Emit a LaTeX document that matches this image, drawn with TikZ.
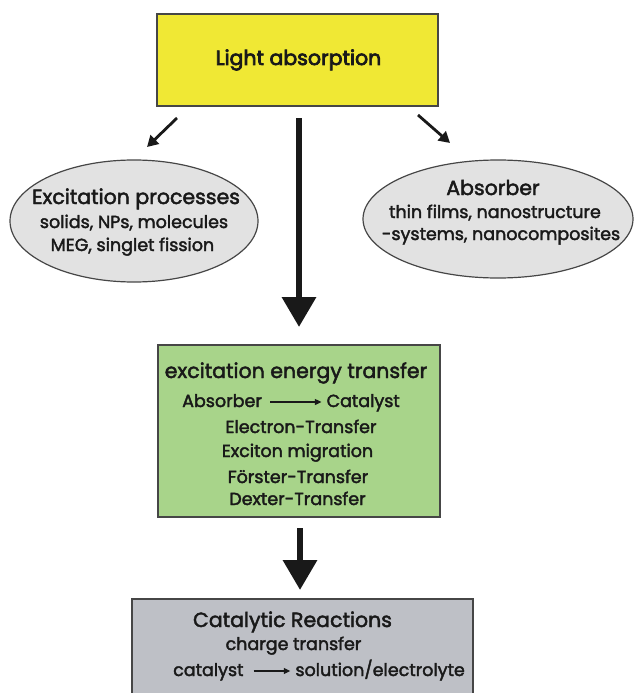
\documentclass[tikz,border=0pt]{standalone}
\usepackage{fontspec}
\setmainfont{Poppins}[FakeBold=2.2]
\newfontfamily\heavyfont{Poppins}[FakeBold=3.5]
\usetikzlibrary{arrows.meta,shapes.geometric}
\definecolor{yel}{RGB}{240,232,52}
\definecolor{grn}{RGB}{168,212,138}
\definecolor{gry}{RGB}{190,192,198}
\definecolor{ellc}{RGB}{226,226,226}
\definecolor{edgec}{RGB}{70,70,70}
\definecolor{ink}{RGB}{25,25,25}
\begin{document}
\begin{tikzpicture}[x=1pt,y=-1pt,
  box/.style={draw=edgec, line width=1.5pt, inner sep=0pt, outer sep=0pt},
  oval/.style={ellipse, draw=edgec, line width=1.2pt, fill=ellc, inner sep=0pt, outer sep=0pt},
  txt/.style={text=ink, inner sep=0pt, anchor=base},
  big/.style={txt, font=\fontsize{20.5}{24}\selectfont},
  small/.style={txt, font=\fontsize{17.5}{21}\selectfont},
  bigarrow/.style={draw=ink, line width=6.5pt, -{Triangle[width=33pt,length=30pt]}},
  thinarrow/.style={draw=ink, line width=2.8pt, -{Triangle[width=12pt,length=11pt]}},
  textarrow/.style={draw=ink, line width=1.1pt, -{Triangle[width=6pt,length=6.5pt]}}]
\useasboundingbox (0,0) rectangle (635,693);
% boxes
\node[box, fill=yel, minimum width=281pt, minimum height=92pt] (light) at (297.5,60) {};
\node[box, fill=grn, minimum width=282pt, minimum height=172pt] (energy) at (299,431) {};
\node[box, fill=gry, minimum width=341pt, minimum height=101pt] (cat) at (302.5,649.5) {};
% ellipses
\node[oval, minimum width=248pt, minimum height=122pt] (exc) at (134,221) {};
\node[oval, minimum width=270pt, minimum height=118pt] (abs) at (498,219) {};
% texts
\node[txt, font=\heavyfont\fontsize{20.5}{24}\selectfont] (tlight) at (298.5,65) {Light absorption};
\node[big] (texc1) at (136,204) {Excitation processes};
\node[small] (texc2) at (134,228) {solids, NPs, molecules};
\node[small] (texc3) at (132.5,251) {MEG, singlet fission};
\node[big] (tabs1) at (493,195) {Absorber};
\node[small] (tabs2) at (495,218) {thin films, nanostructure};
\node[small] (tabs3) at (501,240) {-systems, nanocomposites};
\node[big] (ten1) at (296,378) {excitation energy transfer};
\node[small, anchor=base west] (tabsorber) at (182,407) {Absorber};
\node[small, anchor=base east] (tcatalyst) at (400,407) {Catalyst};
\node[small] (ten3) at (301,433) {Electron-Transfer};
\node[small] (ten4) at (297.5,457) {Exciton migration};
\node[small] (ten5) at (298,483) {Förster-Transfer};
\node[small] (ten6) at (297.5,505) {Dexter-Transfer};
\node[big] (tcat1) at (292.5,627) {Catalytic Reactions};
\node[small] (tcat2) at (293.5,650) {charge transfer};
\node[small, anchor=base west] (tcat3) at (173,676) {catalyst};
\node[small, anchor=base east] (tcat4) at (465,676) {solution/electrolyte};
% arrows
\coordinate (la1) at (177,118);
\coordinate (la2) at (147,147);
\coordinate (ra1) at (418,115);
\coordinate (ra2) at (450,143);
\draw[thinarrow] (la1) -- (la2);
\draw[thinarrow] (ra1) -- (ra2);
\draw[bigarrow, shorten <=12pt, shorten >=18pt] ([xshift=1.5pt]light.south) -- ([xshift=0pt]energy.north);
\draw[bigarrow, shorten <=11pt, shorten >=9pt] ([xshift=1pt]energy.south) -- ([xshift=-2.5pt]cat.north);
\draw[textarrow, shorten <=8pt, shorten >=5pt] ([yshift=5pt]tabsorber.base east) -- ([yshift=5pt]tcatalyst.base west);
\draw[textarrow, shorten <=10pt, shorten >=5pt] ([yshift=5pt]tcat3.base east) -- ([yshift=5pt]tcat4.base west);
\end{tikzpicture}
\end{document}
